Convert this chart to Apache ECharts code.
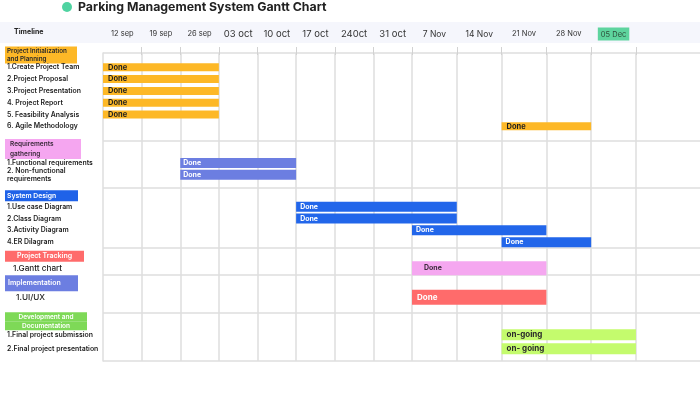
<!DOCTYPE html>
<html>
<head>
<meta charset="utf-8">
<script src="https://cdn.jsdelivr.net/npm/echarts@6/dist/echarts.min.js"></script>
<style>html,body{margin:0;padding:0;background:#fff}#c{width:700px;height:400px}</style>
</head>
<body>
<div id="c"></div>
<script>
// ---------------- data ----------------
const chartTitle = 'Parking Management System Gantt Chart';
const weekLabels = ['12 sep','19 sep','26 sep','03 oct','10 oct','17 oct','240ct','31 oct','7 Nov','14 Nov','21 Nov','28 Nov','05 Dec'];
const groupNames = ['Project Initialization\nand Planning','Requirements\ngathering','System Design','Project Tracking','Implementation','Development and\nDocumentation'];
const taskNames = ['1.Create Project Team','2.Project Proposal','3.Project Presentation','4. Project Report','5. Feasibility Analysis','6. Agile Methodology',
  '1.Functional requirements','2. Non-functional\nrequirements',
  '1.Use case Diagram','2.Class Diagram','3.Activity Diagram','4.ER Dilagram',
  '1.Gantt chart','1.UI/UX','1.Final project submission','2.Final project presentation'];
const taskGroup  = [0,0,0,0,0,0, 1,1, 2,2,2,2, 3, 4, 5,5];
const taskStart  = [0,0,0,0,0,10, 2,2, 5,5,8,10, 8, 8, 10,10];   // week index
const taskEnd    = [3,3,3,3,3,12, 5,5, 9,9,11,12, 11, 11, 13,13];
const taskStatus = ['Done','Done','Done','Done','Done','Done','Done','Done','Done','Done','Done','Done','Done','Done','on-going','on- going'];

// ---------------- styles / layout ----------------
const FONT = 'Inter';
const groupStyle = [
  {color:'#FDB827', barH:8,  label:'#1f1f1f', dx:5,  fs:7.5},
  {color:'#6C7EE1', barH:10, label:'#ffffff', dx:3,  fs:7},
  {color:'#2266EA', barH:10, label:'#ffffff', dx:4,  fs:7},
  {color:'#F5A7F0', barH:14, label:'#3a2a3a', dx:12, fs:7},
  {color:'#FF6B6B', barH:15, label:'#ffffff', dx:5,  fs:8},
  {color:'#C4FB6D', barH:11, label:'#2a2a2a', dx:5,  fs:8}
];
// row layout (in row units): gap before each group header, gap header->first task, task step
const gapBefore = [0, 1.92, 1.78, 1.19, 1.27, 2.03];
const gapAfter  = [1.04, 1.19, 0.93, 1.02, 1.19, 1.14];
const stepIn    = [1, 1, 1, 1, 1, 1.2];
const rows = []; const taskPos = []; const sepPos = [];
let p = 0;
groupNames.forEach((g, gi) => {
  if (gi > 0) { p += gapBefore[gi]; sepPos.push(p - 0.68); }
  rows.push({pos: p, kind: 'h', gi});
  let first = true;
  taskNames.forEach((t, ti) => {
    if (taskGroup[ti] !== gi) return;
    p += first ? gapAfter[gi] : stepIn[gi]; first = false;
    rows.push({pos: p, kind: 't', ti});
    taskPos[ti] = p;
  });
});
const yMin = -0.17, yMax = p + 1.03;
const rowMap = {};
rows.forEach(r => { rowMap[r.pos.toFixed(4)] = r; });

function rowLabel(v) {
  const r = rowMap[v.toFixed(4)];
  if (!r) return '';
  if (r.kind === 'h') {
    return groupNames[r.gi].split('\n').map(s => '{h' + r.gi + '|' + s + '}').join('\n');
  }
  const g = taskGroup[r.ti];
  const key = (g === 3) ? 'tb' : (g === 4) ? 'tc' : 't';
  return taskNames[r.ti].split('\n').map(s => '{' + key + '|' + s + '}').join('\n');
}
const leftRich = {
  t:  {fontSize:6.9, fontWeight:600, color:'#1c1c1c', fontFamily:FONT, padding:[0,0,0,2], lineHeight:8.5},
  tb: {fontSize:8.2, fontWeight:500, color:'#1c1c1c', fontFamily:FONT, padding:[0,0,0,8]},
  tc: {fontSize:8.2, fontWeight:500, color:'#1c1c1c', fontFamily:FONT, padding:[0,0,0,11]},
  h0: {fontSize:6.3, fontWeight:600, color:'#2a2a2a', fontFamily:FONT, backgroundColor:'#FDB827', width:70, height:8.5, lineHeight:8.5, padding:[0,0,0,2]},
  h1: {fontSize:6.5, fontWeight:600, color:'#3a2a3a', fontFamily:FONT, backgroundColor:'#F5A6F0', width:71, height:10, lineHeight:10, padding:[0,0,0,5]},
  h2: {fontSize:6.8, fontWeight:600, color:'#ffffff', fontFamily:FONT, backgroundColor:'#1F62E8', width:71, height:11, lineHeight:11, padding:[0,0,0,2]},
  h3: {fontSize:7, fontWeight:600, color:'#ffffff', fontFamily:FONT, backgroundColor:'#FF6B6B', width:79, height:11, lineHeight:11, align:'center'},
  h4: {fontSize:7, fontWeight:600, color:'#ffffff', fontFamily:FONT, backgroundColor:'#6C7EE1', width:70, height:16, lineHeight:16, padding:[0,0,0,3]},
  h5: {fontSize:6.5, fontWeight:600, color:'#ffffff', fontFamily:FONT, backgroundColor:'#7ED957', width:82, height:9, lineHeight:9, align:'center'}
};

const weekSmall = new Set([0,1,2,10,11]);
const weekRich = {
  s:  {fontSize:7.5, color:'#333', fontFamily:FONT},
  m:  {fontSize:9.5, color:'#333', fontFamily:FONT},
  n:  {fontSize:8.5, color:'#333', fontFamily:FONT},
  hl: {fontSize:7.5, color:'#2d4d3a', fontFamily:FONT, backgroundColor:'#5ED49E', padding:[3,3,2,3]}
};
function weekLabel(v) {
  const i = Math.floor(v);
  const key = (i === weekLabels.length - 1) ? 'hl' : weekSmall.has(i) ? 's' : (i >= 8 ? 'n' : 'm');
  return '{' + key + '|' + weekLabels[i] + '}';
}

const SPLIT = 8;               // grid A shows weeks 0..8, grid B 8..end
const B_MAX = 14.43;
const boundaries = weekLabels.map((w, i) => i + 1);
const centers = weekLabels.map((w, i) => i + 0.5);
const GRID_TOP = 53, GRID_H = 308;
const LINE = '#dedede';

function xAxisCfg(gi, min, max) {
  const hi = (min === 0) ? SPLIT : max;
  return {
    type:'value', gridIndex:gi, position:'top', min, max, offset:15,
    axisLine:{show:false},
    axisTick:{show:true, customValues: boundaries.filter(b => b > min && b <= hi), length:8, lineStyle:{color:'#d2d2d2', width:1}},
    splitLine:{show:true, lineStyle:{color:LINE, width:1.5}},
    axisLabel:{customValues: centers.filter(c => c > min && c < max), formatter: weekLabel, margin:4, verticalAlign:'middle', rich: weekRich}
  };
}
function yAxisCfg(gi, showLabels) {
  return {
    type:'value', gridIndex:gi, inverse:true, min:yMin, max:yMax,
    axisLine:{show: showLabels, lineStyle:{color:LINE, width:1.5}},
    axisTick:{show:false, customValues:[yMin].concat(sepPos, [yMax])},
    splitLine:{show:true, lineStyle:{color:LINE, width:1.5}},
    axisLabel:{show: showLabels, customValues: rows.map(r => r.pos), formatter: rowLabel, align:'left', margin:98, rich: leftRich}
  };
}
function barSeries(gi, lo, hi) {
  return {
    type:'custom', xAxisIndex:gi, yAxisIndex:gi, clip:true,
    data: taskNames.map((n, i) => [taskStart[i], taskEnd[i], taskPos[i], i]),
    encode:{x:[0,1], y:2},
    renderItem: (params, api) => {
      const i = api.value(3), s = api.value(0), e = api.value(1), y = api.value(2);
      const st = groupStyle[taskGroup[i]];
      const p0 = api.coord([s, y]), p1 = api.coord([e, y]);
      const children = [{type:'rect', shape:{x:p0[0], y:p0[1] - st.barH / 2, width:p1[0] - p0[0], height:st.barH}, style:{fill:st.color}}];
      if (s >= lo && s < hi) {
        children.push({type:'text', x:p0[0] + st.dx, y:p0[1], style:{text:taskStatus[i], fill:st.label, fontSize:st.fs, fontWeight:'bold', fontFamily:FONT, verticalAlign:'middle'}});
      }
      return {type:'group', children};
    }
  };
}

const option = {
  animation:false,
  backgroundColor:'#ffffff',
  title:{text:chartTitle, left:78, top:1, padding:0, textStyle:{fontSize:12.3, fontWeight:700, color:'#222', fontFamily:FONT}},
  graphic:[
    {type:'rect', z:-100, shape:{x:0, y:22, width:700, height:21}, style:{fill:'#F5F6FC'}},
    {type:'circle', shape:{cx:67, cy:7, r:5}, style:{fill:'#4FD3A1'}},
    {type:'text', x:14, y:32, style:{text:'Timeline', fontSize:7, fontWeight:'bold', fill:'#222', fontFamily:FONT, verticalAlign:'middle'}}
  ],
  grid:[
    {left:103, top:GRID_TOP, width:309, height:GRID_H},
    {left:412, top:GRID_TOP, width:288, height:GRID_H}
  ],
  xAxis:[xAxisCfg(0, 0, SPLIT), xAxisCfg(1, SPLIT, B_MAX)],
  yAxis:[yAxisCfg(0, true), yAxisCfg(1, false)],
  series:[barSeries(0, 0, SPLIT), barSeries(1, SPLIT, B_MAX)]
};
const chart = echarts.init(document.getElementById('c'));
chart.setOption(option);
</script>
</body>
</html>
